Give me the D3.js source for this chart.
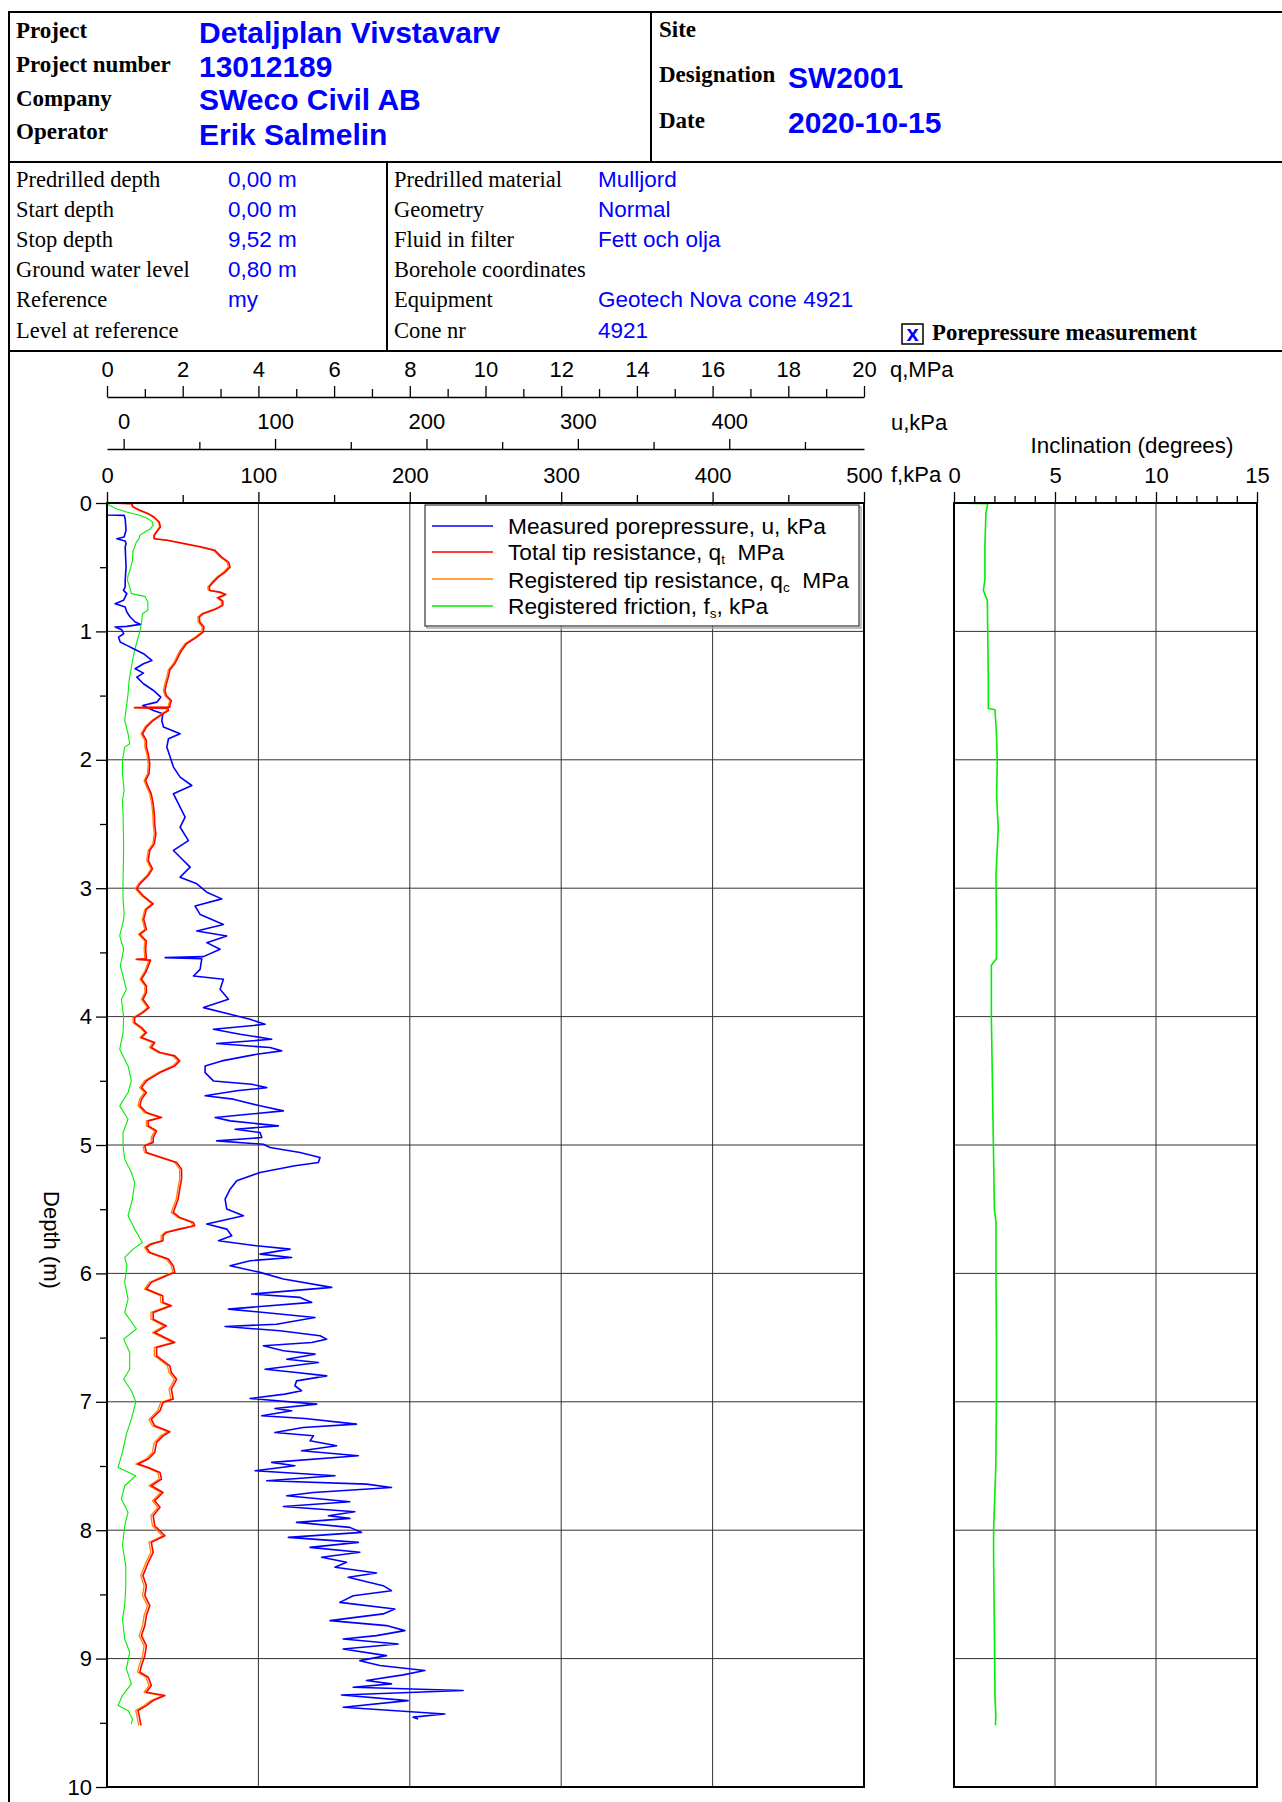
<!DOCTYPE html>
<html><head><meta charset="utf-8">
<script src="https://cdn.jsdelivr.net/npm/d3@7"></script>
<style>
body{margin:0;background:#fff;}
svg{display:block;}
</style></head><body>
<svg id="c" width="1282" height="1802"></svg>
<script>
// ---------------- DATA ----------------
const headerLabels = ["Project","Project number","Company","Operator"];
const headerValues = ["Detaljplan Vivstavarv","13012189","SWeco Civil AB","Erik Salmelin"];
const siteLabels = ["Site","Designation","Date"];
const siteValues = ["","SW2001","2020-10-15"];
const infoLabelsL = ["Predrilled depth","Start depth","Stop depth","Ground water level","Reference","Level at reference"];
const infoValuesL = ["0,00 m","0,00 m","9,52 m","0,80 m","my",""];
const infoLabelsR = ["Predrilled material","Geometry","Fluid in filter","Borehole coordinates","Equipment","Cone nr"];
const infoValuesR = ["Mulljord","Normal","Fett och olja","","Geotech Nova cone 4921","4921"];

const qTicks = [0,2,4,6,8,10,12,14,16,18,20];
const qMinor = [1,3,5,7,9,11,13,15,17,19];
const uTicks = [0,100,200,300,400];
const uMinor = [50,150,250,350,450];
const fTicks = [0,100,200,300,400,500];
const fMinor = [50,150,250,350,450];
const iTicks = [0,5,10,15];
const iMinor = [1,2,3,4,6,7,8,9,11,12,13,14];
const depthTicks = [0,1,2,3,4,5,6,7,8,9,10];
const depthMinor = [0.5,1.5,2.5,3.5,4.5,5.5,6.5,7.5,8.5,9.5];

// tip resistance (MPa)
const depthQ = [0,0.005,0.03,0.057,0.083,0.109,0.148,0.187,0.226,0.252,
0.278,0.29,0.32,0.343,0.369,0.421,0.46,0.499,0.538,0.577,
0.616,0.655,0.681,0.694,0.712,0.738,0.764,0.797,0.823,0.862,
0.888,0.927,0.966,1.005,1.044,1.096,1.148,1.2,1.252,1.299,
1.356,1.408,1.46,1.499,1.538,1.577,1.59,1.594,1.6,1.616,
1.642,1.694,1.745,1.797,1.849,1.901,1.953,2.031,2.109,2.161,
2.213,2.265,2.343,2.421,2.5,2.577,2.655,2.706,2.784,2.849,
2.901,2.966,3.005,3.057,3.122,3.165,3.243,3.32,3.359,3.411,
3.476,3.55,3.554,3.56,3.645,3.709,3.761,3.813,3.865,3.93,
3.969,4.008,4.047,4.086,4.125,4.163,4.202,4.241,4.28,4.306,
4.345,4.384,4.436,4.501,4.553,4.591,4.643,4.695,4.747,4.786,
4.812,4.851,4.89,4.942,4.98,5.006,5.058,5.097,5.136,5.188,
5.266,5.344,5.421,5.525,5.564,5.603,5.629,5.655,5.681,5.707,
5.746,5.772,5.798,5.837,5.888,5.94,5.992,6.018,6.07,6.122,
6.174,6.226,6.252,6.304,6.357,6.409,6.461,6.538,6.577,6.642,
6.72,6.772,6.824,6.901,6.979,7.005,7.07,7.135,7.187,7.233,
7.265,7.316,7.394,7.446,7.485,7.511,7.55,7.602,7.654,7.706,
7.77,7.822,7.887,7.965,8.043,8.095,8.172,8.25,8.354,8.432,
8.51,8.588,8.665,8.743,8.821,8.899,8.977,9.054,9.106,9.145,
9.21,9.262,9.288,9.327,9.366,9.405,9.444,9.495,9.52];
const qtVals = [0,0.65,0.69,0.87,1.09,1.24,1.38,1.41,1.31,1.25,
1.25,1.6,2.1,2.5,2.85,3.03,3.21,3.25,3.12,2.94,
2.81,2.70,2.72,2.98,3.14,2.94,3.06,3.06,2.90,2.54,
2.44,2.45,2.56,2.54,2.37,2.10,1.97,1.88,1.79,1.66,
1.62,1.57,1.53,1.57,1.70,1.66,1.66,0.73,1.62,1.62,
1.48,1.22,1.04,0.94,1.04,1.04,1.09,1.13,1.11,1.02,
1.09,1.17,1.22,1.25,1.26,1.29,1.25,1.13,1.09,1.20,
1.09,0.87,0.79,0.95,1.22,1.04,0.97,1.04,0.87,1.04,
1.02,1.04,0.79,1.15,1.04,0.91,1.04,1.04,0.95,1.11,
0.95,0.73,0.73,0.91,1.04,0.91,1.26,1.17,1.40,1.79,
1.92,1.79,1.40,1.04,0.91,1.04,0.91,0.87,1.04,1.44,
1.09,1.09,1.31,1.22,1.22,1.00,1.04,1.44,1.84,1.97,
1.97,1.92,1.88,1.75,1.92,2.28,2.32,1.92,1.57,1.48,
1.48,1.17,1.04,1.13,1.62,1.75,1.79,1.57,1.17,1.04,
1.47,1.48,1.70,1.22,1.22,1.57,1.26,1.79,1.31,1.31,
1.66,1.70,1.84,1.70,1.75,1.48,1.40,1.17,1.26,1.66,
1.48,1.31,1.26,1.09,0.82,1.09,1.40,1.44,1.17,1.48,
1.26,1.40,1.22,1.26,1.53,1.17,1.22,1.09,0.95,1.04,
1.00,1.13,1.04,1.00,0.91,1.04,1.00,0.91,0.87,1.09,
1.17,1.04,1.53,1.22,1.04,0.82,0.85,0.88,0.90];
const qcVals = [0,0.64,0.67,0.85,1.07,1.22,1.36,1.39,1.29,1.23,
1.23,1.56,2.06,2.46,2.81,2.99,3.17,3.21,3.08,2.90,
2.77,2.66,2.68,2.94,3.10,2.90,3.02,3.02,2.86,2.50,
2.40,2.41,2.52,2.50,2.33,2.06,1.93,1.84,1.75,1.62,
1.58,1.53,1.49,1.53,1.66,1.62,1.62,0.72,1.58,1.58,
1.44,1.18,1.00,0.90,1.00,1.00,1.05,1.09,1.07,0.98,
1.05,1.13,1.18,1.21,1.22,1.25,1.21,1.09,1.05,1.16,
1.05,0.83,0.75,0.91,1.18,1.00,0.93,1.00,0.83,1.00,
0.98,1.00,0.76,1.11,1.00,0.87,1.00,1.00,0.91,1.07,
0.91,0.69,0.69,0.87,1.00,0.87,1.21,1.12,1.35,1.74,
1.87,1.74,1.35,0.99,0.86,0.99,0.86,0.82,0.99,1.39,
1.04,1.04,1.26,1.17,1.17,0.95,0.99,1.39,1.79,1.92,
1.92,1.87,1.83,1.70,1.87,2.23,2.27,1.87,1.52,1.43,
1.43,1.12,0.99,1.08,1.57,1.70,1.74,1.52,1.12,0.99,
1.41,1.42,1.64,1.16,1.16,1.51,1.20,1.73,1.25,1.25,
1.60,1.64,1.78,1.64,1.69,1.42,1.34,1.11,1.20,1.60,
1.42,1.25,1.20,1.03,0.76,1.03,1.34,1.38,1.11,1.42,
1.20,1.34,1.16,1.20,1.47,1.11,1.16,1.03,0.89,0.98,
0.94,1.07,0.98,0.94,0.85,0.98,0.94,0.85,0.81,1.03,
1.11,0.98,1.47,1.16,0.98,0.76,0.79,0.82,0.84];

// sleeve friction (kPa)
const depthF = [0,0.02,0.044,0.07,0.096,0.122,0.148,0.174,0.2,0.226,
0.252,0.278,0.304,0.343,0.369,0.447,0.512,0.564,0.603,0.655,
0.706,0.727,0.771,0.836,0.862,0.94,1.005,1.096,1.174,1.278,
1.382,1.486,1.59,1.694,1.797,1.875,1.901,2.005,2.109,2.239,
2.317,2.421,2.681,2.94,3.087,3.2,3.243,3.372,3.476,3.606,
3.787,3.865,4.0,4.125,4.254,4.384,4.501,4.591,4.695,4.799,
4.903,5.006,5.11,5.214,5.292,5.421,5.551,5.655,5.759,5.811,
5.876,5.94,6.07,6.2,6.304,6.433,6.512,6.616,6.746,6.824,
6.914,7.0,7.135,7.252,7.394,7.511,7.576,7.654,7.757,7.861,
7.965,8.121,8.276,8.432,8.588,8.691,8.847,8.951,9.08,9.197,
9.288,9.366,9.405,9.47,9.508];
const fsVals = [0,1.8,6.2,12.8,21.6,27,30,30.5,28.7,25,
21.6,21.2,19.4,18.3,17.2,16.8,15.5,13.9,13.5,15,
16.1,25,27,27,23.4,22.7,21.6,19.4,17.7,16.1,
14.6,13.9,12.8,11.7,13.9,15,11.7,10.2,10.2,11.3,
10.2,10.6,11,10.6,10.6,11.3,11,8.4,11,8.8,
12.8,9.5,11,10.6,8.4,13.9,16.1,13.9,8.4,13.9,
10.6,10.6,11.7,16.1,18.3,16.8,13.9,18.3,23.4,17.2,
11.7,13.2,11.7,13.9,11.7,19.4,11,15,15,11,
16.1,19,16.1,12.8,10.2,7.3,19,11.7,9.5,13.9,
11.7,10.2,12.4,12.4,11.7,10.2,11.7,15,12.8,16.1,
10.2,7.3,13.9,16.8,16.1];

// pore pressure (kPa)
const depthU = [0,0.094,0.096,0.122,0.213,0.265,0.278,0.296,0.317,0.343,
0.499,0.603,0.655,0.681,0.706,0.758,0.784,0.81,0.849,0.888,
0.927,0.945,0.961,0.966,0.987,1.018,1.044,1.083,1.109,1.135,
1.174,1.226,1.252,1.291,1.325,1.356,1.408,1.46,1.512,1.551,
1.577,1.616,1.642,1.694,1.745,1.797,1.836,1.901,1.979,2.057,
2.135,2.2,2.265,2.369,2.447,2.525,2.629,2.706,2.784,2.836,
2.914,2.966,3.031,3.083,3.139,3.204,3.282,3.333,3.372,3.424,
3.476,3.533,3.541,3.55,3.632,3.684,3.709,3.787,3.865,3.93,
3.982,4.021,4.06,4.099,4.137,4.176,4.21,4.241,4.267,4.293,
4.345,4.384,4.436,4.501,4.527,4.553,4.578,4.617,4.643,4.695,
4.734,4.786,4.812,4.851,4.877,4.903,4.942,4.968,4.994,5.019,
5.058,5.097,5.136,5.162,5.214,5.279,5.344,5.421,5.499,5.551,
5.616,5.655,5.707,5.746,5.785,5.811,5.85,5.876,5.901,5.94,
5.992,6.044,6.109,6.161,6.187,6.226,6.278,6.343,6.396,6.414,
6.447,6.486,6.512,6.538,6.564,6.603,6.629,6.668,6.694,6.746,
6.772,6.798,6.837,6.875,6.914,6.94,6.974,7.018,7.052,7.07,
7.109,7.13,7.174,7.2,7.239,7.265,7.304,7.342,7.381,7.42,
7.472,7.498,7.537,7.576,7.615,7.641,7.667,7.706,7.732,7.778,
7.815,7.856,7.887,7.908,7.939,7.978,8.017,8.056,8.095,8.134,
8.172,8.211,8.25,8.289,8.333,8.367,8.432,8.471,8.51,8.562,
8.614,8.652,8.704,8.743,8.782,8.821,8.847,8.886,8.925,8.977,
9.016,9.054,9.093,9.127,9.171,9.197,9.223,9.249,9.283,9.327,
9.379,9.431,9.456,9.47];
const uVals = [-11,-11,0.3,1,1.6,0.3,-4.5,1,1.6,1,
1.6,1,1,-0.1,2.1,-0.1,-5.6,1,2.1,4.3,
7.6,10.9,2.1,-5.6,-1.2,0,-3.4,-2.3,2.1,6.5,
13.1,18.6,13.1,7.6,13.1,8.7,13.1,19.7,24.5,21.9,
12.6,19.7,25.9,25.2,26.3,37.3,29.6,28.5,30.7,32.9,
37.3,45,32.9,37.3,40.6,37.3,42.8,32.9,39.5,43.9,
37.3,48.3,54.9,64.8,47.2,50.5,65.9,48.3,68.1,54.9,
63.7,52.7,27.4,51.6,50.5,46.1,65.9,63.7,69.2,52.7,
70.3,83.5,93.4,59.3,76.9,97.8,61.5,96.7,104.4,87.9,
64.8,53.8,53.8,59.3,84.6,94.5,74.7,53.8,72.5,90.1,
105.5,60.4,70.3,102.2,73.6,90.1,91.2,61.5,92.3,96.7,
116.5,129.7,128.6,113.1,90.1,74.7,70.3,67,68.1,79.1,
54.9,68.1,71.4,62.6,87.9,109.9,90.1,111,83.5,70.3,
90.1,105.5,137.4,84.6,116.5,124.2,69.2,126.4,100.9,67,
103.2,129.7,134.1,124.2,92.3,105.5,126.4,107.7,128.6,93.4,
114.2,134.1,114.2,113.1,117.5,106.5,83.5,127.5,99.9,111,
91.2,119.7,153.8,118.6,99.9,125.3,123.1,140.7,117.5,155,
97.8,113.1,86.8,139.6,94.5,160.4,176.9,125.3,107.7,149.4,
105.5,152.7,135.2,149.4,114.2,149.4,157.1,108.8,155,123.1,
156,130.8,147.2,139.6,167,148.3,171.4,176.9,151.6,142.8,
179.1,171.4,136.3,173.6,185.7,167,145,181.3,145,173.6,
156,169.2,198.9,184.6,160.4,176.9,151.6,224.2,143.9,187.9,
145,212.1,191.2,194.5];

// inclination (degrees)
const depthI = [0,0.005,0.08,0.34,0.6,0.68,0.76,1.0,1.38,1.6,1.61,1.82,2.02,2.28,2.54,2.9,3.3,3.55,3.6,4.0,4.5,5.0,5.5,5.6,6.0,6.5,6.99,7.5,8.0,8.2,8.8,9.3,9.45,9.52];
const incVals = [0,1.67,1.58,1.53,1.53,1.45,1.65,1.67,1.70,1.70,2.03,2.11,2.14,2.11,2.19,2.08,2.1,2.1,1.85,1.85,1.9,1.95,2.0,2.08,2.08,2.1,2.1,2.07,1.96,1.96,2.0,2.03,2.07,2.05];

const legendItems = [
  {color:"#0000ff", parts:[["Measured porepressure, u, kPa",0]]},
  {color:"#ff0000", parts:[["Total tip resistance, q",0],["t",1],["  MPa",0]]},
  {color:"#ff8000", parts:[["Registered tip resistance, q",0],["c",1],["  MPa",0]]},
  {color:"#00ee00", parts:[["Registered friction, f",0],["s",1],[", kPa",0]]}
];

// ---------------- DRAW ----------------
const SERIF = '"Liberation Serif","Times New Roman",serif';
const SANS = '"Liberation Sans",Arial,Helvetica,sans-serif';
const BLUE = "#0000ff";
const svg = d3.select("#c");
svg.append("rect").attr("width",1282).attr("height",1802).attr("fill","#fff");

// frame lines
const fr = svg.append("g").attr("stroke","#000").attr("stroke-width",2);
[[9,12,1282,12],[9,11,9,1802],[651,12,651,162],[9,162,1282,162],[387,162,387,351],[9,351,1282,351]]
 .forEach(l=>fr.append("line").attr("x1",l[0]).attr("y1",l[1]).attr("x2",l[2]).attr("y2",l[3]));

function txt(x,y,s,opt){
  const t = svg.append("text").attr("x",x).attr("y",y).text(s)
    .attr("font-family",opt.ff||SANS).attr("font-size",opt.fs||22)
    .attr("fill",opt.fill||"#000").attr("font-weight",opt.fw||"normal");
  if(opt.anchor) t.attr("text-anchor",opt.anchor);
  return t;
}
const hlY = [38,72,106,139], hvY = [43,77,110,145];
headerLabels.forEach((s,i)=>txt(16,hlY[i],s,{ff:SERIF,fs:23,fw:"bold"}));
headerValues.forEach((s,i)=>txt(199,hvY[i],s,{fs:30,fw:"bold",fill:BLUE}));
const slY=[37,82,128], svY=[37,88,133];
siteLabels.forEach((s,i)=>txt(659,slY[i],s,{ff:SERIF,fs:23,fw:"bold"}));
siteValues.forEach((s,i)=>{ if(s) txt(788,svY[i],s,{fs:30,fw:"bold",fill:BLUE}); });
const infoY=[187,217,247,277,307,338];
infoLabelsL.forEach((s,i)=>txt(16,infoY[i],s,{ff:SERIF,fs:22.5}));
infoValuesL.forEach((s,i)=>{ if(s) txt(228,infoY[i],s,{fs:22.5,fill:BLUE}); });
infoLabelsR.forEach((s,i)=>txt(394,infoY[i],s,{ff:SERIF,fs:22.5}));
infoValuesR.forEach((s,i)=>{ if(s) txt(598,infoY[i],s,{fs:22.5,fill:BLUE}); });
svg.append("rect").attr("x",902).attr("y",324).attr("width",21).attr("height",20)
  .attr("fill","none").attr("stroke","#000").attr("stroke-width",1.5);
txt(912.5,341,"x",{fs:22,fw:"bold",fill:BLUE,anchor:"middle"});
txt(932,340,"Porepressure measurement",{ff:SERIF,fs:22.8,fw:"bold"});

// scales
const y = d3.scaleLinear().domain([0,10]).range([503,1787]);
const xq = d3.scaleLinear().domain([0,20]).range([107,864]);
const xu = d3.scaleLinear().domain([-11,489]).range([107,864]);
const xf = d3.scaleLinear().domain([0,500]).range([107,864]);
const xi = d3.scaleLinear().domain([0,15]).range([954,1257]);

// grid
const grid = svg.append("g").attr("stroke","#333").attr("stroke-width",1);
[100,200,300,400].forEach(v=>grid.append("line").attr("x1",xf(v)).attr("x2",xf(v)).attr("y1",y(0)).attr("y2",y(10)));
[5,10].forEach(v=>grid.append("line").attr("x1",xi(v)).attr("x2",xi(v)).attr("y1",y(0)).attr("y2",y(10)));
d3.range(1,10).forEach(v=>{
  grid.append("line").attr("x1",xf(0)).attr("x2",xf(500)).attr("y1",y(v)).attr("y2",y(v));
  grid.append("line").attr("x1",xi(0)).attr("x2",xi(15)).attr("y1",y(v)).attr("y2",y(v));
});

// curves
function series(ds, vs){ return ds.map((d,i)=>({d:d, v:vs[i]})); }
function drawLine(data, xs, color, w){
  svg.append("path").datum(data)
    .attr("d", d3.line().x(p=>xs(p.v)).y(p=>y(p.d)))
    .attr("fill","none").attr("stroke",color).attr("stroke-width",w).attr("stroke-linejoin","round");
}
drawLine(series(depthF, fsVals), xf, "#00ee00", 1.1);
drawLine(series(depthU, uVals), xu, BLUE, 1.6);
drawLine(series(depthQ, qcVals), xq, "#ff8000", 1.3);
drawLine(series(depthQ, qtVals), xq, "#ff0000", 1.6);
drawLine(series(depthI, incVals), xi, "#00ee00", 1.6);

// legend
const lg = svg.append("g");
lg.append("rect").attr("x",427).attr("y",507).attr("width",434).attr("height",121).attr("fill","none").attr("stroke","#aaa").attr("stroke-width",1.5);
lg.append("rect").attr("x",425).attr("y",505).attr("width",434).attr("height",121).attr("fill","#fff").attr("stroke","#333").attr("stroke-width",1.2);
const lineY=[526,552,579,606], textY=[534,560,588,614];
legendItems.forEach((it,i)=>{
  lg.append("line").attr("x1",432).attr("x2",493).attr("y1",lineY[i]).attr("y2",lineY[i]).attr("stroke",it.color).attr("stroke-width",1.5);
  const t = lg.append("text").attr("x",508).attr("y",textY[i]).attr("font-family",SANS).attr("font-size",22.7).style("white-space","pre");
  it.parts.forEach(p=>{
    const ts = t.append("tspan").text(p[0]);
    if(p[1]) ts.attr("font-size",13.5).attr("dy",4);
    else if(t.selectAll("tspan").size()>1) ts.attr("dy",-4);
  });
});

// borders
svg.append("rect").attr("x",107).attr("y",503).attr("width",757).attr("height",1284).attr("fill","none").attr("stroke","#000").attr("stroke-width",2);
svg.append("rect").attr("x",954).attr("y",503).attr("width",303).attr("height",1284).attr("fill","none").attr("stroke","#000").attr("stroke-width",2);

// axes
function styleAxis(g){
  g.attr("font-size",null).attr("font-family",null);
  g.selectAll("line").attr("stroke","#000").attr("stroke-width",1.3);
  g.selectAll("path").attr("stroke","#000").attr("stroke-width",1.5);
  g.selectAll("text").attr("font-family",SANS).attr("font-size",22).attr("fill","#000");
}
function topAxis(scale, yPos, major, minor, majS, minS, showDomain){
  const g1 = svg.append("g").attr("transform",`translate(0,${yPos})`)
    .call(d3.axisTop(scale).tickValues(minor).tickSize(minS).tickSizeOuter(0).tickFormat(""));
  g1.select(".domain").remove();
  const g2 = svg.append("g").attr("transform",`translate(0,${yPos})`)
    .call(d3.axisTop(scale).tickValues(major).tickSize(majS).tickPadding(20-majS).tickSizeOuter(0).tickFormat(d3.format("d")));
  if(!showDomain) g2.select(".domain").remove();
  styleAxis(g1); styleAxis(g2);
}
topAxis(xq, 397, qTicks, qMinor, 11, 8, true);
topAxis(xu, 449, uTicks, uMinor, 10, 7, true);
topAxis(xf, 503, fTicks, fMinor, 11, 8, false);
topAxis(xi, 503, iTicks, iMinor, 11, 7, false);

const ya = svg.append("g").attr("transform","translate(107,0)")
  .call(d3.axisLeft(y).tickValues(depthMinor).tickSize(7).tickFormat(""));
ya.select(".domain").remove(); styleAxis(ya);
const yb = svg.append("g").attr("transform","translate(107,0)")
  .call(d3.axisLeft(y).tickValues(depthTicks).tickSize(11).tickPadding(4).tickFormat(d3.format("d")));
yb.select(".domain").remove(); styleAxis(yb);

// axis titles
txt(890,377,"q,MPa",{fs:22});
txt(891,430,"u,kPa",{fs:22});
txt(891,482,"f,kPa",{fs:22});
txt(1132,453,"Inclination (degrees)",{fs:22.4,anchor:"middle"});
svg.append("text").attr("transform","translate(52,1240) rotate(90)").attr("text-anchor","middle")
  .attr("dy","0.35em").attr("font-family",SANS).attr("font-size",22).text("Depth (m)");
</script>
</body></html>
